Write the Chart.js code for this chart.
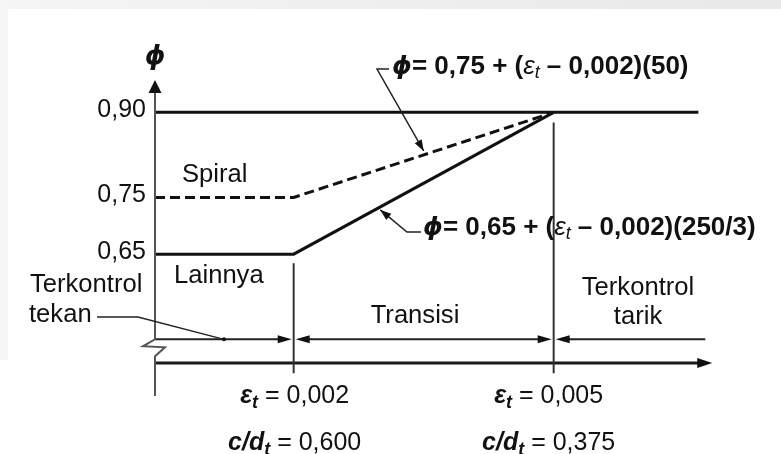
<!DOCTYPE html>
<html><head><meta charset="utf-8">
<script src="https://cdn.jsdelivr.net/npm/chart.js@4.4.1/dist/chart.umd.min.js"></script>
<style>html,body{margin:0;padding:0;background:#fff;}#wrap{width:781px;height:454px;position:relative;}</style>
</head><body><div id="wrap"><canvas id="c" width="781" height="454"></canvas></div>
<script>
// ---- data ----
const epsCurve = [0.0004, 0.002, 0.005];       // εt break points
const phiSpiral = [0.75, 0.75, 0.90];           // Spiral (dashed)
const phiOther = [0.65, 0.65, 0.90];            // Lainnya (solid)
const phiCap = 0.90;                            // upper limit line
const epsCapEnd = 0.00667;
const phiTicks = [0.65, 0.75, 0.90];
const epsLimits = [0.002, 0.005];
const epsLimitText = ['0,002', '0,005'];
const cdtText = ['0,600', '0,375'];
const zoneNames = [['Terkontrol', 'tekan'], ['Transisi'], ['Terkontrol', 'tarik']];
const curveNames = ['Spiral', 'Lainnya'];
const formulaSpiral = ['0,75', '0,002', '50'];
const formulaOther = ['0,65', '0,002', '250/3'];
// decorative levels of the diagram (in φ / εt units)
const rowPhi = 0.50, axisPhi = 0.458, vBottomPhi = 0.44;
const rowEnd = 0.00675, axisEnd = 0.00683;

const FONT = '"Liberation Sans", Arial, sans-serif';
const INK = '#111';

function seg(pts, opt) {
  return Object.assign({data: pts, borderColor: INK, borderWidth: 3, pointRadius: 0,
    fill: false, tension: 0, clip: false, borderCapStyle: 'butt'}, opt || {});
}

const datasets = [
  seg([{x: epsCurve[0], y: phiCap}, {x: epsCapEnd, y: phiCap}]),
  seg(epsCurve.map((e, i) => ({x: e, y: phiOther[i]}))),
  seg(epsCurve.map((e, i) => ({x: e, y: phiSpiral[i]})), {borderDash: [10, 5]}),
  seg([{x: epsLimits[0], y: phiOther[1] - 0.016}, {x: epsLimits[0], y: vBottomPhi}], {borderWidth: 2, borderColor: '#333'}),
  seg([{x: epsLimits[1], y: phiCap - 0.018}, {x: epsLimits[1], y: vBottomPhi}], {borderWidth: 2, borderColor: '#333'}),
  seg([{x: epsCurve[0], y: rowPhi}, {x: epsLimits[0] - 0.00016, y: rowPhi}], {borderWidth: 2, borderColor: '#222'}),
  seg([{x: epsLimits[0] + 0.00016, y: rowPhi}, {x: epsLimits[1] - 0.00016, y: rowPhi}], {borderWidth: 2, borderColor: '#222'}),
  seg([{x: epsLimits[1] + 0.00016, y: rowPhi}, {x: rowEnd, y: rowPhi}], {borderWidth: 2, borderColor: '#222'}),
  seg([{x: epsCurve[0], y: axisPhi}, {x: axisEnd - 0.00015, y: axisPhi}], {borderWidth: 3, borderColor: '#1a1a1a'})
];

function head(ctx, tx, ty, ang, len, half) {
  ctx.save();
  ctx.translate(tx, ty); ctx.rotate(ang);
  ctx.beginPath(); ctx.moveTo(0, 0); ctx.lineTo(-len, -half); ctx.lineTo(-len, half); ctx.closePath();
  ctx.fill(); ctx.restore();
}
function rich(ctx, parts, x, y, align) {
  let w = 0;
  parts.forEach(p => { ctx.font = p.f; p.w = ctx.measureText(p.t).width; w += p.w; });
  let cx = align === 'center' ? x - w / 2 : (align === 'right' ? x - w : x);
  ctx.textAlign = 'left';
  parts.forEach(p => { ctx.font = p.f; ctx.fillText(p.t, cx, y + (p.dy || 0)); cx += p.w; });
}

const deco = {
  id: 'deco',
  beforeDraw(chart) {
    const ctx = chart.ctx;
    ctx.save();
    ctx.fillStyle = '#fff'; ctx.fillRect(0, 0, 781, 454);
    const g = ctx.createLinearGradient(0, 0, 781, 0);
    g.addColorStop(0, '#f5f5f5'); g.addColorStop(1, '#e8e8e8');
    ctx.fillStyle = g; ctx.fillRect(0, 0, 781, 9);
    ctx.fillStyle = '#f6f6f6'; ctx.fillRect(0, 0, 8, 360);
    ctx.restore();
  },
  afterDatasetsDraw(chart) {
    const {ctx, scales: {x, y}} = chart;
    const X = v => x.getPixelForValue(v), Y = v => y.getPixelForValue(v);
    ctx.save();
    ctx.fillStyle = INK; ctx.strokeStyle = INK;
    // y axis with break and arrow
    const x0 = X(epsCurve[0]);
    const tip = Y(0.95) - 4, rowY = Y(rowPhi), bot = Y(0.4);
    ctx.strokeStyle = '#555'; ctx.lineWidth = 2;
    ctx.beginPath();
    ctx.moveTo(x0, tip + 12); ctx.lineTo(x0, rowY);
    ctx.lineTo(x0 - 12, rowY + 7); ctx.lineTo(x0 + 10, rowY + 8); ctx.lineTo(x0, rowY + 17);
    ctx.lineTo(x0, bot);
    ctx.stroke();
    ctx.fillStyle = '#111';
    head(ctx, x0, tip, -Math.PI / 2, 13, 6.5);
    // row arrows
    const a = X(epsLimits[0]), b = X(epsLimits[1]);
    head(ctx, a - 2, rowY, 0, 14, 4);
    head(ctx, a + 2, rowY, Math.PI, 14, 4);
    head(ctx, b - 2, rowY, 0, 14, 4);
    head(ctx, b + 2, rowY, Math.PI, 14, 4);
    // x axis arrow
    head(ctx, X(axisEnd), Y(axisPhi), 0, 15, 5);
    // leaders
    ctx.strokeStyle = '#222'; ctx.lineWidth = 1.5;
    // formula 1
    const t1x = X(0.0035), t1y = Y(0.825) - 4;
    ctx.beginPath(); ctx.moveTo(389, 69); ctx.lineTo(377, 69); ctx.lineTo(t1x, t1y); ctx.stroke();
    const ang1 = Math.atan2(t1y - 69, t1x - 377);
    head(ctx, t1x, t1y, ang1, 11, 4);
    // formula 2
    const t2x = X(0.003), t2y = Y(0.7333) + 3;
    ctx.beginPath(); ctx.moveTo(421, 232); ctx.lineTo(407, 232); ctx.lineTo(t2x, t2y); ctx.stroke();
    head(ctx, t2x, t2y, Math.atan2(t2y - 232, t2x - 407), 11, 4);
    // tekan leader
    ctx.lineWidth = 1.3;
    ctx.beginPath(); ctx.moveTo(97, 317); ctx.lineTo(138, 317); ctx.lineTo(224, rowY); ctx.stroke();
    ctx.beginPath(); ctx.arc(224, rowY, 2, 0, Math.PI * 2); ctx.fill();

    // texts
    ctx.fillStyle = INK; ctx.textBaseline = 'alphabetic';
    const R = '25.6px ' + FONT;
    const BI = 'italic bold 25px ' + FONT;
    const BIs = 'italic bold 18px ' + FONT;
    const PHI = 'italic bold 26px "DejaVu Sans", sans-serif';
    rich(ctx, [{t: curveNames[0], f: R}], 182, 182, 'left');
    rich(ctx, [{t: curveNames[1], f: R}], 174, 283, 'left');
    rich(ctx, [{t: zoneNames[0][0], f: R}], 30, 292, 'left');
    rich(ctx, [{t: zoneNames[0][1], f: R}], 29, 322, 'left');
    rich(ctx, [{t: zoneNames[1][0], f: R}], 415, 323, 'center');
    rich(ctx, [{t: zoneNames[2][0], f: R}], 638, 295, 'center');
    rich(ctx, [{t: zoneNames[2][1], f: R}], 638, 324, 'center');
    const cx = [X(epsLimits[0]) + 1, X(epsLimits[1]) - 5];
    const R2 = '25px ' + FONT;
    for (let i = 0; i < 2; i++) {
      rich(ctx, [{t: 'ε', f: BI}, {t: 't', f: BIs, dy: 5}, {t: ' = ' + epsLimitText[i], f: R2}], cx[i], 403, 'center');
      rich(ctx, [{t: 'c/d', f: BI}, {t: 't', f: BIs, dy: 5}, {t: ' = ' + cdtText[i], f: R2}], cx[i], 450, 'center');
    }
    // formulas
    const FB = 'bold 26px ' + FONT, FI = 'italic 26px ' + FONT, FIs = 'italic 18px ' + FONT;
    const PHIf = 'italic bold 25px "DejaVu Sans", sans-serif';
    rich(ctx, [{t: 'ϕ', f: PHIf}, {t: '= ' + formulaSpiral[0] + ' + (', f: FB}, {t: 'ε', f: FI}, {t: 't', f: FIs, dy: 4},
      {t: ' – ' + formulaSpiral[1] + ')(' + formulaSpiral[2] + ')', f: FB}], 392, 74, 'left');
    rich(ctx, [{t: 'ϕ', f: PHIf}, {t: '= ' + formulaOther[0] + ' + (', f: FB}, {t: 'ε', f: FI}, {t: 't', f: FIs, dy: 4},
      {t: ' – ' + formulaOther[1] + ')(' + formulaOther[2] + ')', f: FB}], 423, 235, 'left');
    // axis title
    ctx.textBaseline = 'middle';
    rich(ctx, [{t: 'ϕ', f: PHI}], 155, 57, 'center');
    ctx.restore();
  }
};

new Chart(document.getElementById('c'), {
  type: 'line',
  data: {datasets},
  options: {
    responsive: false, animation: false, events: [],
    layout: {padding: {left: 0, right: 54, top: 84, bottom: 58}},
    plugins: {legend: {display: false}, tooltip: {enabled: false}},
    scales: {
      x: {type: 'linear', min: 0.0004, max: 0.007, display: false},
      y: {
        type: 'linear', min: 0.4, max: 0.95,
        grid: {display: false, drawTicks: false},
        border: {display: false},
        afterBuildTicks: s => { s.ticks = phiTicks.map(v => ({value: v})); },
        afterFit: s => { s.width = 155; },
        ticks: {
          padding: 9, labelOffset: -2, color: INK,
          font: {family: FONT, size: 25},
          callback: v => v.toFixed(2).replace('.', ',')
        }
      }
    }
  },
  plugins: [deco]
});
</script></body></html>
